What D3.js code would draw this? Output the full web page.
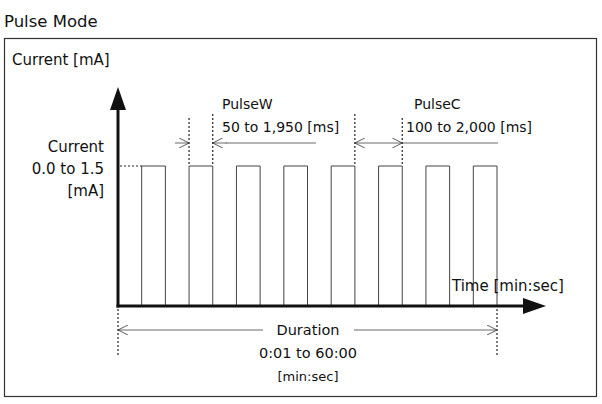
<!DOCTYPE html>
<html><head><meta charset="utf-8">
<script src="https://cdn.jsdelivr.net/npm/d3@7"></script>
<style>body{margin:0;background:#fff}text{font-family:"DejaVu Sans",sans-serif;fill:#111}</style>
</head><body>
<svg id="chart" width="602" height="404"></svg>
<script>
// pulse timing (ms)
var pulseStarts = [500, 1500, 2500, 3500, 4500, 5500, 6500, 7500];
var pulseWidth = 500;
var currentLevel = 1.5;
var durationEnd = 8000;
var yLabels = ["Current", "0.0 to 1.5", "[mA]"];
var durLabels = ["Duration", "0:01 to 60:00", "[min:sec]"];

var svg = d3.select("#chart");
var x = d3.scaleLinear().domain([0, durationEnd]).range([118, 497]);
var y = d3.scaleLinear().domain([0, currentLevel]).range([306, 166]);

svg.append("defs").append("marker").attr("id", "open").attr("viewBox", "0 0 10 10")
  .attr("refX", 10).attr("refY", 5).attr("markerWidth", 13).attr("markerHeight", 10)
  .attr("markerUnits", "userSpaceOnUse").attr("orient", "auto-start-reverse")
  .append("path").attr("d", "M0,0L10,5L0,10").attr("fill", "none").attr("stroke", "#333").attr("stroke-width", 0.8);

svg.append("text").attr("x", 4).attr("y", 27).attr("font-size", 16.5).attr("font-family", "Liberation Sans, sans-serif").text("Pulse Mode");
svg.append("rect").attr("x", 4.5).attr("y", 38.5).attr("width", 592).attr("height", 358)
  .attr("fill", "none").attr("stroke", "#333").attr("stroke-width", 1.2);

// pulses
var path = d3.path();
path.moveTo(x(0), y(0));
pulseStarts.forEach(function(s) {
  path.lineTo(x(s), y(0)); path.lineTo(x(s), y(currentLevel));
  path.lineTo(x(s + pulseWidth), y(currentLevel)); path.lineTo(x(s + pulseWidth), y(0));
});
svg.append("path").attr("d", path.toString()).attr("fill", "none").attr("stroke", "#444").attr("stroke-width", 1);

// axes
svg.append("line").attr("x1", x(0)).attr("x2", x(0)).attr("y1", y(0) + 1.5).attr("y2", 108)
  .attr("stroke", "#111").attr("stroke-width", 3);
svg.append("path").attr("d", "M" + (x(0) - 8) + ",110L" + x(0) + ",87L" + (x(0) + 8) + ",110Z").attr("fill", "#111");
svg.append("line").attr("x1", x(0) - 1.5).attr("x2", 525).attr("y1", y(0)).attr("y2", y(0))
  .attr("stroke", "#111").attr("stroke-width", 3);
svg.append("path").attr("d", "M523," + (y(0) - 8) + "L546," + y(0) + "L523," + (y(0) + 8) + "Z").attr("fill", "#111");

svg.append("text").attr("x", 12).attr("y", 65).attr("font-size", 15).text("Current [mA]");
svg.append("text").attr("x", 452).attr("y", 291).attr("font-size", 15).text("Time [min:sec]");
yLabels.forEach(function(t, i) {
  svg.append("text").attr("x", 104).attr("y", 152 + i * 22).attr("text-anchor", "end").attr("font-size", 15).text(t);
});

function dotted(x1, y1, x2, y2) {
  svg.append("line").attr("x1", x1).attr("y1", y1).attr("x2", x2).attr("y2", y2)
    .attr("stroke", "#222").attr("stroke-width", 1.2).attr("stroke-dasharray", "2,2");
}
function thin(x1, y1, x2, y2, ms, me) {
  var l = svg.append("line").attr("x1", x1).attr("y1", y1).attr("x2", x2).attr("y2", y2)
    .attr("stroke", "#444").attr("stroke-width", 0.8);
  if (ms) l.attr("marker-start", "url(#open)");
  if (me) l.attr("marker-end", "url(#open)");
}
dotted(x(0) + 2, y(currentLevel), x(pulseStarts[0]), y(currentLevel));

// PulseW
var w0 = x(pulseStarts[1]), w1 = x(pulseStarts[1] + pulseWidth);
dotted(w0, 118, w0, 166); dotted(w1, 114, w1, 166);
thin(175, 143, w0, 143, false, true);
thin(w1 + 14, 143, w1, 143, false, true);
thin(w1 + 13, 143, 316, 143);
svg.append("text").attr("x", 222).attr("y", 109).attr("font-size", 14).text("PulseW");
svg.append("text").attr("x", 222).attr("y", 132).attr("font-size", 14).text("50 to 1,950 [ms]");

// PulseC
var c0 = x(pulseStarts[4] + pulseWidth), c1 = x(pulseStarts[5] + pulseWidth);
dotted(c0, 114, c0, 166); dotted(c1, 118, c1, 166);
thin(c0, 143, c1, 143, true, true);
thin(c1, 143, 498, 143);
svg.append("text").attr("x", 414).attr("y", 109).attr("font-size", 14).text("PulseC");
svg.append("text").attr("x", 406).attr("y", 132).attr("font-size", 14).text("100 to 2,000 [ms]");

// Duration
dotted(x(0), 309, x(0), 356); dotted(x(durationEnd), 309, x(durationEnd), 356);
thin(x(0), 330, 263, 330, true, false);
thin(354, 330, x(durationEnd), 330, false, true);
durLabels.forEach(function(t, i) {
  svg.append("text").attr("x", 308).attr("y", 335 + i * 23).attr("text-anchor", "middle")
    .attr("font-size", i == 2 ? 13 : 14.5).text(t);
});
</script>
</body></html>
